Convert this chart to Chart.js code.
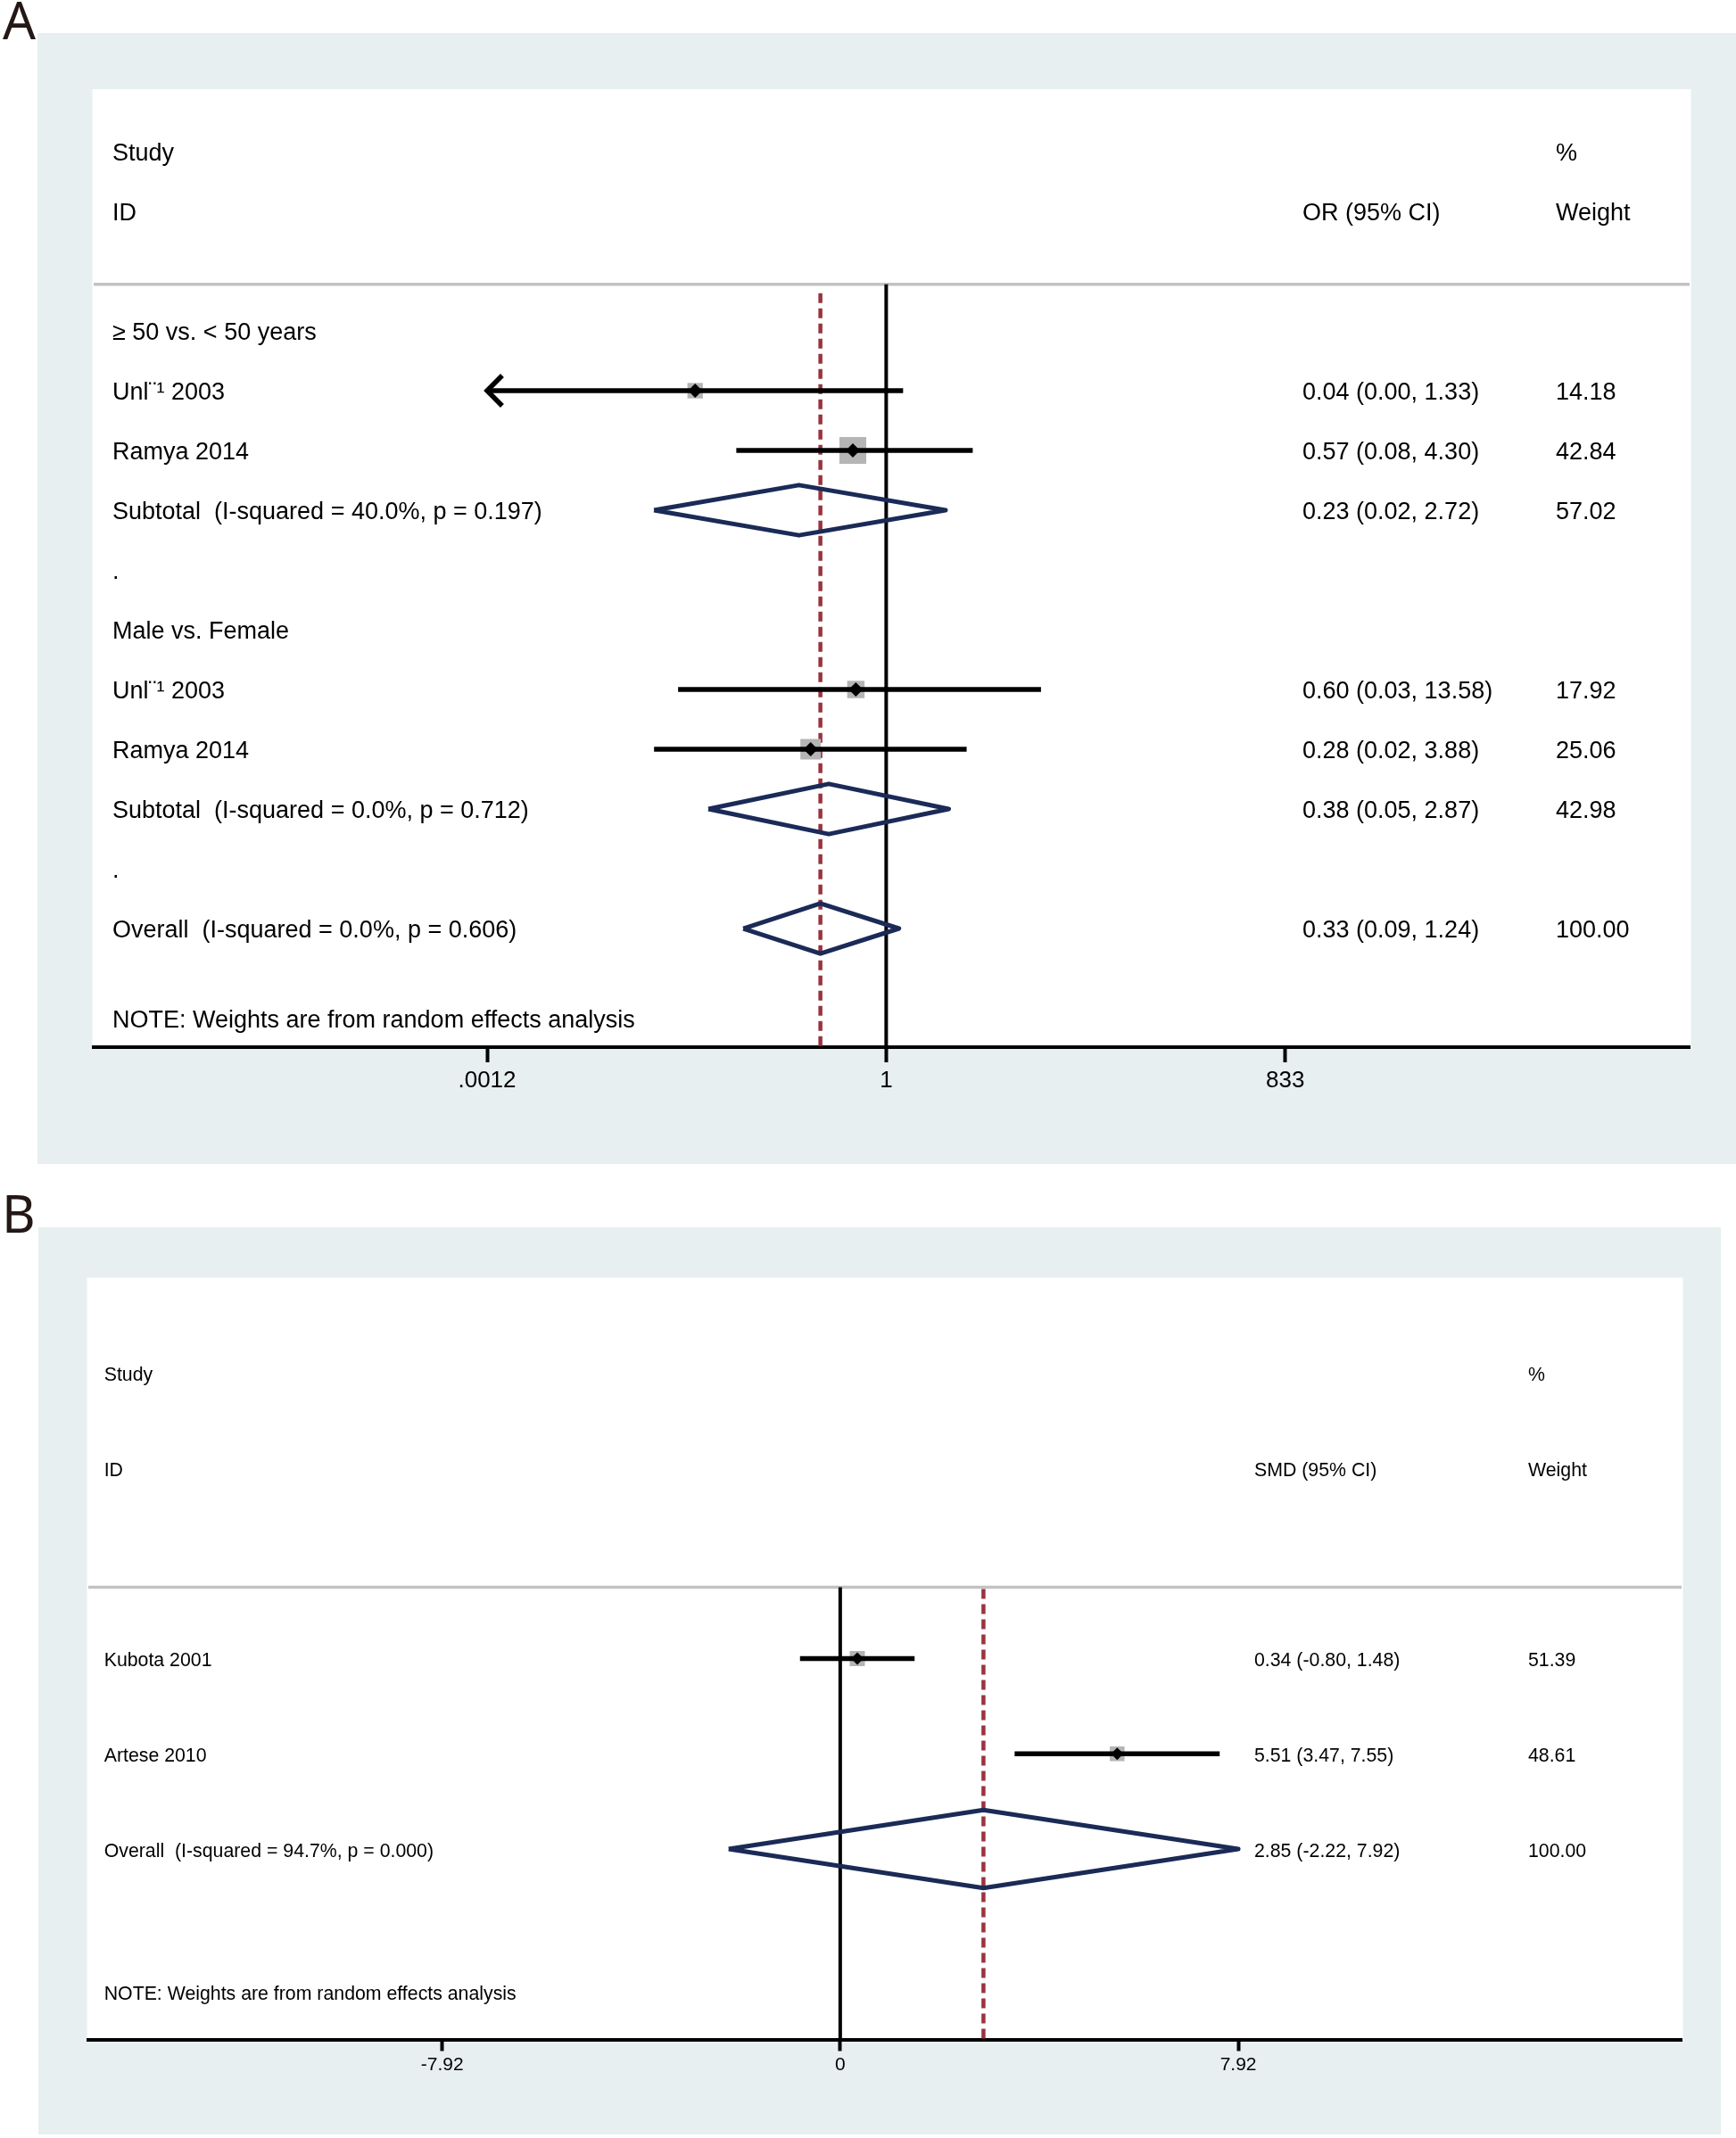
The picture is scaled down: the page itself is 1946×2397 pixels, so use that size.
<!DOCTYPE html>
<html>
<head>
<meta charset="utf-8">
<script src="https://cdn.jsdelivr.net/npm/chart.js@4.4.1/dist/chart.umd.min.js"></script>
<style>
html,body{margin:0;padding:0;background:#fff;}
body{width:1946px;height:2397px;position:relative;overflow:hidden;font-family:"Liberation Sans",Arial,sans-serif;}
.lbl{position:absolute;font-family:"Noto Sans",sans-serif;font-size:58px;line-height:58px;color:#231815;}
.panel{position:absolute;background:#e7eff0;}
canvas{display:block;}
</style>
</head>
<body>
<div class="lbl" style="left:3px;top:-7px">A</div>
<div class="panel" style="left:42px;top:37px;width:1904px;height:1268px"><canvas id="cA" width="1904" height="1268"></canvas></div>
<div class="lbl" style="left:2px;top:1331px">B</div>
<div class="panel" style="left:43px;top:1376px;width:1886px;height:1017px"><canvas id="cB" width="1886" height="1017"></canvas></div>
<script>
// ---------------- Panel A data (OR, log scale) ----------------
const headerA = ["Study", "ID", "OR (95% CI)", "%", "Weight"];
const groupLabelsA = ["\u2265 50 vs. < 50 years", ".", "Male vs. Female", "."];
const groupRowsA = [3, 7, 8, 12];
const studyLabelsA = ["Unl\u00a8\u00b9 2003", "Ramya 2014", "Unl\u00a8\u00b9 2003", "Ramya 2014"];
const studyRowsA = [4, 5, 9, 10];
const estA = [0.04, 0.57, 0.60, 0.28];
const lowA = [0.00, 0.08, 0.03, 0.02];
const highA = [1.33, 4.30, 13.58, 3.88];
const weightA = [14.18, 42.84, 17.92, 25.06];
const pooledLabelsA = ["Subtotal  (I-squared = 40.0%, p = 0.197)", "Subtotal  (I-squared = 0.0%, p = 0.712)", "Overall  (I-squared = 0.0%, p = 0.606)"];
const pooledRowsA = [6, 11, 13];
const pooledEstA = [0.23, 0.38, 0.33];
const pooledLowA = [0.02, 0.05, 0.09];
const pooledHighA = [2.72, 2.87, 1.24];
const pooledWeightA = [57.02, 42.98, 100.00];
const noteA = "NOTE: Weights are from random effects analysis";
const tickValuesA = [0.0012, 1, 833];
const tickLabelsA = [".0012", "1", "833"];

// ---------------- Panel B data (SMD, linear scale) ----------------
const headerB = ["Study", "ID", "SMD (95% CI)", "%", "Weight"];
const studyLabelsB = ["Kubota 2001", "Artese 2010"];
const studyRowsB = [3, 4];
const estB = [0.34, 5.51];
const lowB = [-0.80, 3.47];
const highB = [1.48, 7.55];
const weightB = [51.39, 48.61];
const pooledLabelsB = ["Overall  (I-squared = 94.7%, p = 0.000)"];
const pooledRowsB = [5];
const pooledEstB = [2.85];
const pooledLowB = [-2.22];
const pooledHighB = [7.92];
const pooledWeightB = [100.00];
const noteB = "NOTE: Weights are from random effects analysis";
const tickValuesB = [-7.92, 0, 7.92];
const tickLabelsB = ["-7.92", "0", "7.92"];

// ---------------- drawing ----------------
const FONT = '"Liberation Sans", Arial, sans-serif';
const NAVY = '#1b2a57';
const CRAN = '#9a3340';
const BOXGRAY = '#b5b5b5';

function f2(v) { return v.toFixed(2); }

function makeForest(id, c) {
  const datasets = [];
  const hdr = c.hdrRow;
  // header separator
  datasets.push({ data: [{x: c.xmin, y: hdr}, {x: c.xmax, y: hdr}], showLine: true, pointRadius: 0,
    borderColor: '#c2c2c2', borderWidth: 3.5, order: 90 });
  // null line
  datasets.push({ data: [{x: c.nullValue, y: hdr}, {x: c.nullValue, y: c.ymax}], showLine: true, pointRadius: 0,
    borderColor: '#000', borderWidth: 4, order: 80 });
  // overall dashed line
  const ov = c.pooledEst[c.pooledEst.length - 1];
  datasets.push({ data: [{x: ov, y: hdr + c.dashStart}, {x: ov, y: c.ymax}], showLine: true, pointRadius: 0,
    borderColor: CRAN, borderWidth: 4.5, borderDash: [11, 6], order: 70 });
  // weight boxes
  datasets.push({ data: c.est.map((v, i) => ({x: v, y: c.rows[i]})), showLine: false,
    pointStyle: 'rect', pointRadius: c.weight.map(w => c.boxK * Math.sqrt(w) / Math.SQRT2),
    backgroundColor: BOXGRAY, borderWidth: 0, order: 60 });
  // CI lines (+ arrows where clipped)
  c.est.forEach((v, i) => {
    const clipped = c.low[i] < c.clipMin;
    const lo = clipped ? c.clipMin : c.low[i];
    datasets.push({ data: [{x: lo, y: c.rows[i]}, {x: c.high[i], y: c.rows[i]}], showLine: true, pointRadius: 0,
      borderColor: '#000', borderWidth: c.ciWidth, borderCapStyle: 'butt', order: 50 });
    if (clipped) {
      datasets.push({ data: [
          {x: c.arrowX(lo), y: c.rows[i] - c.arrowH},
          {x: lo, y: c.rows[i]},
          {x: c.arrowX(lo), y: c.rows[i] + c.arrowH}],
        showLine: true, pointRadius: 0, borderColor: '#000', borderWidth: c.ciWidth,
        borderJoinStyle: 'miter', borderCapStyle: 'butt', order: 50 });
    }
  });
  // pooled diamonds
  c.pooledEst.forEach((v, i) => {
    const r = c.pooledRows[i], h = c.diamondH;
    datasets.push({ data: [
        {x: c.pooledLow[i], y: r}, {x: v, y: r - h}, {x: c.pooledHigh[i], y: r},
        {x: v, y: r + h}, {x: c.pooledLow[i], y: r}],
      showLine: true, pointRadius: 0, borderColor: NAVY, borderWidth: 5, borderJoinStyle: 'round',
      fill: false, order: 40 });
  });
  // point estimate markers
  datasets.push({ data: c.est.map((v, i) => ({x: v, y: c.rows[i]})), showLine: false,
    pointStyle: 'rectRot', pointRadius: c.dotR, backgroundColor: '#000', borderWidth: 0, order: 30 });

  const whitePanel = {
    id: 'whitePanel',
    beforeDraw(chart) {
      const a = chart.chartArea, ctx = chart.ctx;
      ctx.save();
      ctx.fillStyle = '#fff';
      ctx.fillRect(a.left - 1.5, a.top, a.right - a.left + 3, a.bottom - a.top);
      ctx.restore();
    }
  };
  const texts = {
    id: 'texts',
    afterDatasetsDraw(chart) {
      const a = chart.chartArea, ctx = chart.ctx, ys = chart.scales.y;
      const xl = a.left + c.colL, xc = a.left + c.colC, xw = a.left + c.colW;
      ctx.save();
      ctx.fillStyle = '#000';
      ctx.font = c.fontSize + 'px ' + FONT;
      ctx.textBaseline = 'middle';
      ctx.textAlign = 'left';
      const put = (t, x, r) => ctx.fillText(t, x, ys.getPixelForValue(r) + c.textDy);
      put(c.header[0], xl, 0); put(c.header[1], xl, 1);
      put(c.header[2], xc, 1); put(c.header[3], xw, 0); put(c.header[4], xw, 1);
      c.groupLabels.forEach((t, i) => put(t, xl, c.groupRows[i]));
      c.labels.forEach((t, i) => {
        put(t, xl, c.rows[i]);
        put(f2(c.est[i]) + ' (' + f2(c.low[i]) + ', ' + f2(c.high[i]) + ')', xc, c.rows[i]);
        put(f2(c.weight[i]), xw, c.rows[i]);
      });
      c.pooledLabels.forEach((t, i) => {
        const r = c.pooledRows[i];
        put(t, xl, r);
        put(f2(c.pooledEst[i]) + ' (' + f2(c.pooledLow[i]) + ', ' + f2(c.pooledHigh[i]) + ')', xc, r);
        put(f2(c.pooledWeight[i]), xw, r);
      });
      put(c.note, xl, c.noteRow);
      ctx.restore();
    }
  };

  return new Chart(document.getElementById(id), {
    type: 'scatter',
    data: { datasets },
    options: {
      responsive: false, animation: false, devicePixelRatio: 1,
      layout: { padding: c.padding },
      plugins: { legend: { display: false }, tooltip: { enabled: false } },
      scales: {
        x: {
          type: c.xType, min: c.xmin, max: c.xmax, position: 'bottom',
          afterBuildTicks: s => { s.ticks = c.tickValues.map(v => ({ value: v })); },
          afterFit: s => { s.height = c.xHeight; },
          ticks: { callback: (v, i) => c.tickLabels[i], autoSkip: false, maxRotation: 0, minRotation: 0,
                   color: '#000', font: { size: c.tickFont, family: FONT }, padding: c.tickPad },
          grid: { display: true, drawOnChartArea: false, drawTicks: true, tickLength: c.tickLen,
                  tickWidth: 4, tickColor: '#000', color: '#000' },
          border: { display: true, color: '#000', width: 4 }
        },
        y: { type: 'linear', reverse: true, min: c.ymin, max: c.ymax, display: false }
      }
    },
    plugins: [whitePanel, texts]
  });
}

makeForest('cA', {
  header: headerA, groupLabels: groupLabelsA, groupRows: groupRowsA,
  labels: studyLabelsA, rows: studyRowsA, est: estA, low: lowA, high: highA, weight: weightA,
  pooledLabels: pooledLabelsA, pooledRows: pooledRowsA, pooledEst: pooledEstA, pooledLow: pooledLowA,
  pooledHigh: pooledHighA, pooledWeight: pooledWeightA, note: noteA, noteRow: 14.5,
  tickValues: tickValuesA, tickLabels: tickLabelsA,
  xType: 'logarithmic', xmin: 1.585e-6, xmax: 7.583e5, ymin: -1.045, ymax: 14.985,
  nullValue: 1, clipMin: tickValuesA[0], hdrRow: 2.22, dashStart: 0.15,
  arrowX: v => v * 1.29, arrowH: 0.254,
  boxK: 4.6, dotR: 8, ciWidth: 5.5, diamondH: 0.42,
  colL: 21, colC: 1355, colW: 1639, fontSize: 27, textDy: 3,
  tickFont: 26, tickPad: 5, tickLen: 17, xHeight: 60,
  padding: { left: 63, right: 52, top: 63, bottom: 71 }
});

makeForest('cB', {
  header: headerB, groupLabels: [], groupRows: [],
  labels: studyLabelsB, rows: studyRowsB, est: estB, low: lowB, high: highB, weight: weightB,
  pooledLabels: pooledLabelsB, pooledRows: pooledRowsB, pooledEst: pooledEstB, pooledLow: pooledLowB,
  pooledHigh: pooledHighB, pooledWeight: pooledWeightB, note: noteB, noteRow: 6.5,
  tickValues: tickValuesB, tickLabels: tickLabelsB,
  xType: 'linear', xmin: -14.96, xmax: 16.74, ymin: -1.0, ymax: 7.0,
  nullValue: 0, clipMin: -Infinity, hdrRow: 2.25, dashStart: 0.02,
  arrowX: v => v + 0.3, arrowH: 0.16,
  boxK: 2.37, dotR: 7, ciWidth: 5.5, diamondH: 0.41,
  colL: 17.7, colC: 1307, colW: 1614, fontSize: 21.3, textDy: 3,
  tickFont: 21, tickPad: 3, tickLen: 13, xHeight: 45,
  padding: { left: 56, right: 44, top: 56.5, bottom: 61.5 }
});
</script>
</body>
</html>
